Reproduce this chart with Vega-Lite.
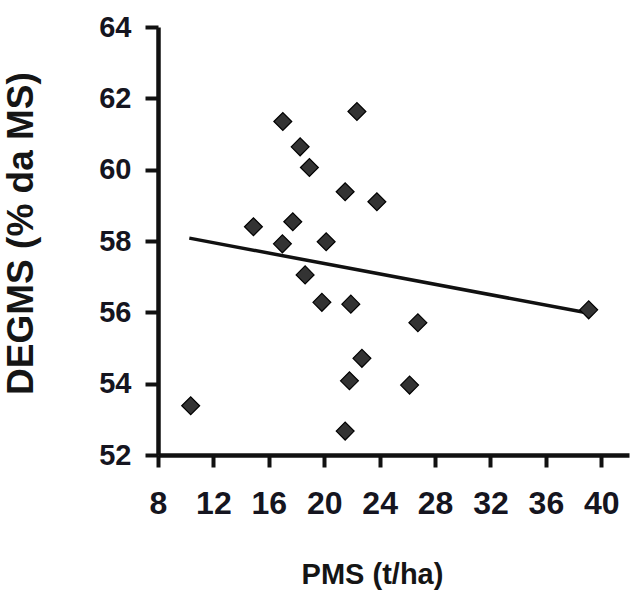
{
  "$schema": "https://vega.github.io/schema/vega-lite/v6.json",
  "autosize": {"type": "none"},
  "width": 471,
  "height": 428,
  "padding": {"left": 158, "top": 27, "right": 3, "bottom": 136},
  "background": "white",
  "config": {
    "view": {"stroke": null},
    "font": "Liberation Sans",
    "axis": {
      "grid": false,
      "domainColor": "#111111",
      "domainWidth": 4.5,
      "tickColor": "#111111",
      "tickWidth": 4,
      "labelFont": "Liberation Sans",
      "labelFontWeight": "bold",
      "labelColor": "#151520",
      "titleFont": "Liberation Sans",
      "titleFontWeight": "bold",
      "titleColor": "#151515",
      "labelOverlap": false,
      "labelFlush": false
    }
  },
  "datasets": {
    "pts": [
      {"PMS": 10.36, "DEGMS": 53.38},
      {"PMS": 14.89, "DEGMS": 58.40},
      {"PMS": 17.01, "DEGMS": 61.35},
      {"PMS": 16.98, "DEGMS": 57.92},
      {"PMS": 17.73, "DEGMS": 58.54},
      {"PMS": 18.26, "DEGMS": 60.64},
      {"PMS": 18.93, "DEGMS": 60.06},
      {"PMS": 18.62, "DEGMS": 57.05},
      {"PMS": 19.83, "DEGMS": 56.28},
      {"PMS": 20.14, "DEGMS": 57.98},
      {"PMS": 21.51, "DEGMS": 59.38},
      {"PMS": 22.36, "DEGMS": 61.63},
      {"PMS": 21.92, "DEGMS": 56.23},
      {"PMS": 23.80, "DEGMS": 59.10},
      {"PMS": 22.72, "DEGMS": 54.71},
      {"PMS": 21.82, "DEGMS": 54.08},
      {"PMS": 21.51, "DEGMS": 52.67},
      {"PMS": 26.16, "DEGMS": 53.96},
      {"PMS": 26.76, "DEGMS": 55.71},
      {"PMS": 39.09, "DEGMS": 56.07}
    ],
    "fit": [
      {"PMS": 10.26, "DEGMS": 58.08},
      {"PMS": 39.05, "DEGMS": 55.98}
    ]
  },
  "layer": [
    {
      "data": {"name": "fit"},
      "mark": {"type": "line", "color": "#111111", "strokeWidth": 3.5},
      "encoding": {
        "x": {
          "field": "PMS", "type": "quantitative",
          "scale": {"domain": [8, 42], "nice": false, "zero": false},
          "axis": {
            "values": [8, 10, 12, 14, 16, 18, 20, 22, 24, 26, 28, 30, 32, 34, 36, 38, 40, 42],
            "labelExpr": "(datum.value % 4 === 0 && datum.value <= 40) ? datum.label : ''",
            "tickSize": 12,
            "labelFontSize": 32,
            "labelPadding": 21,
            "title": "PMS (t/ha)",
            "titleFontSize": 29,
            "titleX": 214, "titleY": 128, "titleBaseline": "alphabetic", "titleAnchor": null, "titleAlign": "center"
          }
        },
        "y": {
          "field": "DEGMS", "type": "quantitative",
          "scale": {"domain": [52, 64], "nice": false, "zero": false},
          "axis": {
            "values": [52, 53, 54, 55, 56, 57, 58, 59, 60, 61, 62, 63, 64],
            "labelExpr": "datum.value % 2 === 0 ? datum.label : ''",
            "tickSize": 13,
            "labelFontSize": 29,
            "labelPadding": 14,
            "title": "DEGMS (% da MS)",
            "titleFontSize": 37,
            "titleX": -137, "titleY": 206, "titleAngle": -90, "titleBaseline": "middle", "titleAlign": "center", "titleAnchor": null
          }
        }
      }
    },
    {
      "data": {"name": "pts"},
      "mark": {"type": "point", "shape": "diamond", "filled": true, "size": 320, "color": "#333333", "stroke": "#000000", "strokeWidth": 1.2, "opacity": 1},
      "encoding": {
        "x": {"field": "PMS", "type": "quantitative"},
        "y": {"field": "DEGMS", "type": "quantitative"}
      }
    }
  ]
}
